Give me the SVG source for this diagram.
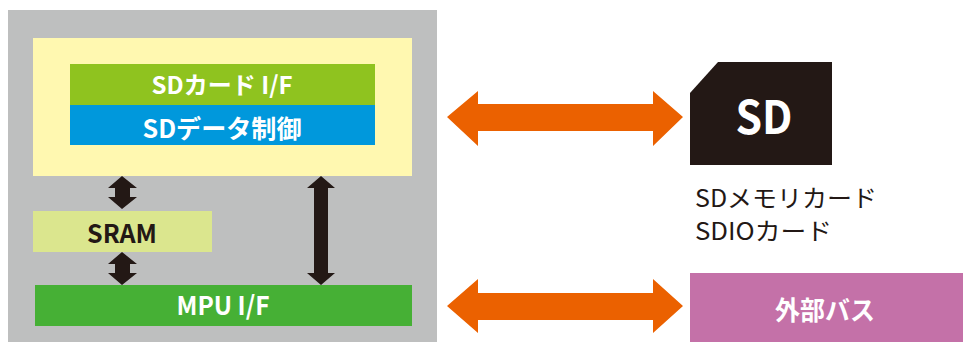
<svg xmlns="http://www.w3.org/2000/svg" width="963" height="342" viewBox="0 0 963 342">
<style>
text{font-family:"Noto Sans CJK JP","Noto Sans",sans-serif;text-anchor:middle}
.w{fill:#ffffff;font-weight:bold}
.d{fill:#231815;font-weight:bold}
.blk{fill:#231815}
.org{fill:#eb6100}
.lbl{fill:#231815;font-size:24px;font-weight:400;text-anchor:start}
</style>
<rect width="963" height="342" fill="#ffffff"/>
<g id="chip"><rect x="8" y="10" width="429" height="332" fill="#bebfbf"/></g>
<g id="sd-block"><rect x="33" y="38" width="379" height="138" fill="#fff8b0"/></g>
<g id="sd-card-if"><rect x="70" y="64" width="305" height="41" fill="#8fc31f"/><text class="w" x="222" y="94" font-size="24" textLength="141" lengthAdjust="spacingAndGlyphs">SDカード I/F</text></g>
<g id="sd-data"><rect x="70" y="105" width="305" height="40" fill="#0098dc"/><text class="w" x="222" y="138" font-size="25" textLength="159" lengthAdjust="spacingAndGlyphs">SDデータ制御</text></g>
<g id="sram"><rect x="33" y="211" width="179" height="41" fill="#dbe68e"/><text class="d" x="122" y="243" font-size="26" textLength="70" lengthAdjust="spacingAndGlyphs">SRAM</text></g>
<g id="mpu-if"><rect x="35" y="285" width="377" height="41" fill="#46b035"/><text class="w" x="223" y="315" font-size="26" textLength="93" lengthAdjust="spacingAndGlyphs">MPU I/F</text></g>
<g id="sd-card"><path d="M718 62H832V165H690V93Z" fill="#231815"/><text class="w" x="764" y="134" font-size="46" textLength="57" lengthAdjust="spacingAndGlyphs">SD</text><text class="lbl" x="695" y="207" textLength="182" lengthAdjust="spacingAndGlyphs">SDメモリカード</text><text class="lbl" x="695" y="240" textLength="137" lengthAdjust="spacingAndGlyphs">SDIOカード</text></g>
<g id="ext-bus"><rect x="690" y="273" width="273" height="69" fill="#c471a8"/><text class="w" x="825" y="320" font-size="26" textLength="100" lengthAdjust="spacingAndGlyphs">外部バス</text></g>
<g id="connectors">
<path class="blk" d="M122 176L137 188H130V197H137L122 209L108 197H115V188H108Z"/>
<path class="blk" d="M122 252L137 264H130V273H137L122 285L108 273H115V264H108Z"/>
<path class="blk" d="M321 176L335 188H328V273H335L321 285L307 273H314V188H307Z"/>
<path class="org" d="M447 117L478 91V104H653V91L683 117L653 146V131H478V146Z"/>
<path class="org" d="M447 306L478 279V293H653V279L683 306L653 333V320H478V333Z"/>
</g>
</svg>
